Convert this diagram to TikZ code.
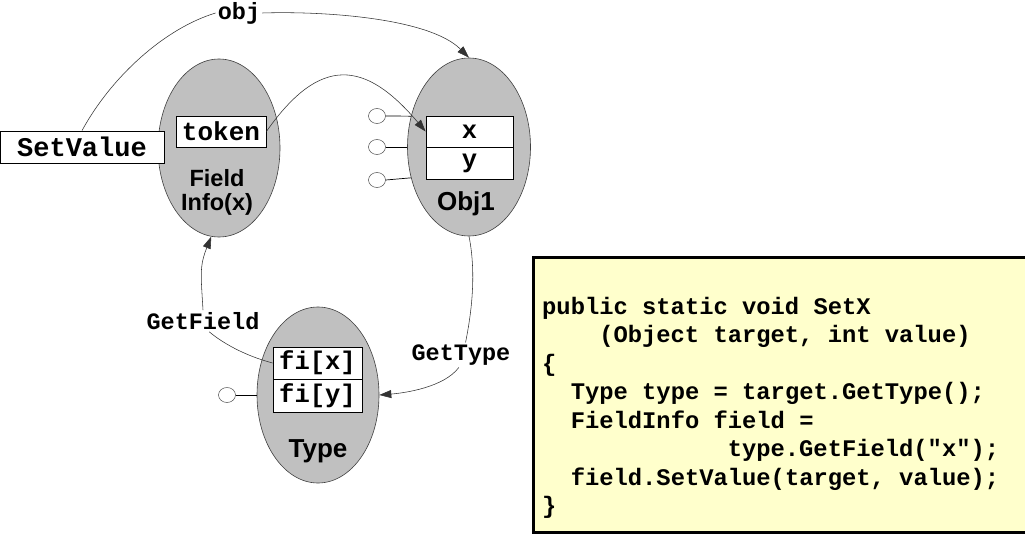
\documentclass[tikz,border=0pt]{standalone}
\usepackage{fontspec}
\setmainfont{Liberation Sans}
\newfontfamily\mono{Liberation Mono}
\usetikzlibrary{shapes.geometric,arrows.meta}
\definecolor{ellfill}{RGB}{192,192,192}
\definecolor{codefill}{RGB}{255,255,204}
\tikzset{
  ell/.style={ellipse, draw=black!75, line width=0.6pt, fill=ellfill, inner sep=0pt},
  fbox/.style={draw=black, line width=0.8pt, fill=white, inner sep=0pt,
    font={\mono\bfseries\fontsize{25.5}{28}\selectfont}},
  port/.style={ellipse, draw=black!70, line width=0.5pt, fill=white, minimum width=17pt, minimum height=15pt, inner sep=0pt},
  plink/.style={draw=black, line width=0.7pt},
  conn/.style={draw=black!80, line width=0.55pt},
  arr/.style={conn, -{Triangle[length=12pt,width=8pt]}},
  clabel/.style={font={\mono\bfseries\fontsize{23.5}{26}\selectfont}, inner sep=2pt},
  slabel/.style={font={\bfseries\fontsize{26}{28}\selectfont}, inner sep=0pt},
  codeline/.style={anchor=base west, inner sep=0pt, font={\mono\bfseries\fontsize{23.8}{28}\selectfont}},
  codebox/.style={draw=black, line width=3pt, fill=codefill, anchor=north west, inner sep=0pt}
}
\begin{document}
\begin{tikzpicture}[x=1pt,y=1pt]
\useasboundingbox (0,0) rectangle (1025,-538);
\fill[white] (0,0) rectangle (1025,-538);

% ellipses
\node[ell, minimum width=122pt, minimum height=178pt] (fi) at (219,-148) {};
\node[ell, minimum width=123pt, minimum height=178pt] (obj1) at (469,-147) {};
\node[ell, minimum width=122pt, minimum height=176pt] (ty) at (318,-395) {};

% labels inside ellipses
\node[slabel, font={\bfseries\fontsize{23.5}{25}\selectfont}, anchor=base] (fil1) at (217,-186) {Field};
\node[slabel, font={\bfseries\fontsize{23.5}{25}\selectfont}, anchor=base] (fil2) at (217,-210) {Info(x)};
\node[slabel, anchor=base] (objlab) at (466,-210) {Obj1};
\node[slabel, anchor=base] (tylab) at (318,-457) {Type};

% boxes
\node[fbox, minimum width=164pt, minimum height=32pt, font={\mono\bfseries\fontsize{27}{28}\selectfont}] (sv) at (82,-147) {SetValue};
\node[fbox, minimum width=90pt, minimum height=31pt, font={\mono\bfseries\fontsize{26}{28}\selectfont}] (tok) at (221,-131.5) {token};
\node[fbox, minimum width=87pt, minimum height=31pt] (xb) at (469.5,-131.5) {x};
\node[fbox, minimum width=87pt, minimum height=32pt] (yb) at (469.5,-163) {y};
\node[fbox, minimum width=89pt, minimum height=32pt] (fx) at (317.5,-363) {fi[x]};
\node[fbox, minimum width=89pt, minimum height=33pt] (fy) at (317.5,-395.5) {fi[y]};

% ports
\node[port] (p1) at (377,-116) {};
\node[port] (p2) at (377,-147) {};
\node[port] (p3) at (377,-180) {};
\node[port] (p4) at (227,-395) {};
\draw[plink] (p1.east) -- (obj1.152);
\draw[plink] (p2.east) -- (obj1.west);
\draw[plink] (p3.east) -- (obj1.208);
\draw[plink] (p4.east) -- (ty.west);

% connector labels
\node[clabel] (objl) at (239,-13) {obj};
\node[clabel] (gf) at (203,-321) {GetField};
\node[clabel] (gt) at (461,-355) {GetType};

% connectors
\draw[conn] (sv.north) .. controls +(30,55) and +(-50,-15) .. (objl.west);
\draw[arr] (objl.east) .. controls +(60,2) and +(-40,40) .. (obj1.north);
\draw[arr] (tok.east) .. controls +(54,77) and +(-60,71) .. (xb.west);
\draw[conn] (fx.west) .. controls +(-30,8) and +(12,-10) .. (gf.-60);
\draw[arr] (gf.north) .. controls +(-2,35) and +(-12,-30) .. (fi.265);
\draw[conn] (obj1.south) .. controls +(8,-40) and +(5,25) .. (gt.70);
\draw[arr] (gt.-100) .. controls +(-15,-20) and +(25,2) .. (ty.east);

% code box
\node[codebox, minimum width=510pt, minimum height=275pt] (code) at (531.5,-255.5) {};
\node[codeline] (c1) at (542,-314) {public static void SetX};
\node[codeline] (c2) at (599.1,-342.5) {(Object target, int value)};
\node[codeline] (c3) at (542,-371) {\{};
\node[codeline] (c4) at (570.6,-399.5) {Type type = target.GetType();};
\node[codeline] (c5) at (570.6,-428) {FieldInfo field =};
\node[codeline] (c6) at (727.6,-456.5) {type.GetField("x");};
\node[codeline] (c7) at (570.6,-485) {field.SetValue(target, value);};
\node[codeline] (c8) at (542,-513.5) {\}};
\end{tikzpicture}
\end{document}
